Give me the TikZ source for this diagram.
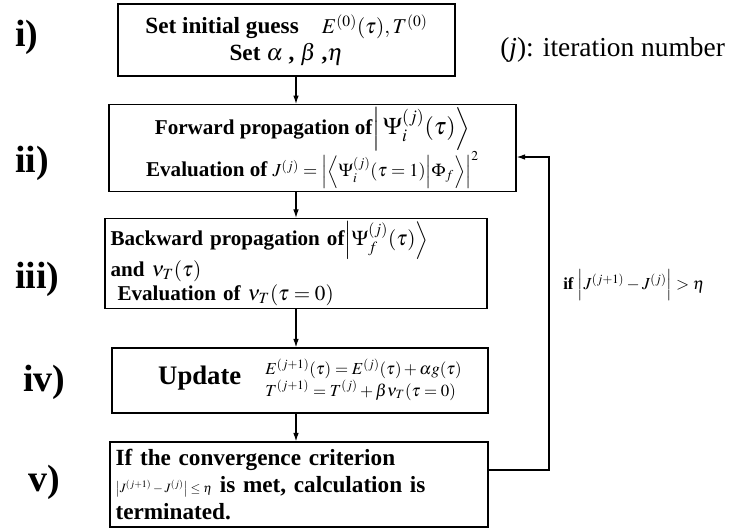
\documentclass[tikz,border=0pt]{standalone}
\usepackage{amsmath,amssymb}
\usepackage{mathptmx}
\usepackage[no-math]{fontspec}
\setmainfont{Liberation Serif}
\usetikzlibrary{arrows.meta,positioning,calc}
\begin{document}
\begin{tikzpicture}[x=0.025cm,y=-0.025cm,>={Latex[length=6pt,width=4pt]},
  box/.style={draw=black,line width=.9pt,inner xsep=4pt,inner ysep=2pt,font=\bfseries\fontsize{15}{17}\selectfont},
  flow/.style={->,line width=.8pt,draw=black},
  steplabel/.style={anchor=west,inner sep=0pt,font=\bfseries\fontsize{27}{30}\selectfont}]
\useasboundingbox (0,0) rectangle (739,528);
\node[box,minimum width=8.425cm,minimum height=1.8cm,align=center,font=\bfseries\fontsize{16.5}{19}\selectfont] (init) at (286.5,40) {Set initial guess\quad{\fontsize{15}{17}\selectfont$E^{(0)}(\tau),T^{(0)}$}\\Set $\alpha$ , $\beta$ ,$\eta$};
\node[box,minimum width=10.175cm,minimum height=2.15cm,align=center] (fwd) at (312.5,148) {Forward propagation of{\fontsize{17}{19}\selectfont$\left|\,\Psi_i^{(j)}(\tau)\right\rangle$}\\Evaluation of {\fontsize{13}{15}\selectfont$J^{(j)}=\left|\left\langle\Psi_i^{(j)}(\tau=1)\middle|\Phi_f\right\rangle\right|^2$}};
\node[box,minimum height=2.175cm,text width=9.27cm,align=left] (bwd) at (296,263.5) {Backward propagation of$\left|\Psi_f^{(j)}(\tau)\right\rangle$\\and $\nu_T(\tau)$\\\ Evaluation of $\nu_T(\tau=0)$};
\node[box,minimum width=9.4cm,minimum height=1.625cm,align=center,font=\bfseries\fontsize{19}{21}\selectfont] (upd) at (300,380.5) {\hspace*{0.5cm}Update\hspace{0.9em}{\fontsize{12}{14}\selectfont$\begin{array}{@{}l@{}}E^{(j+1)}(\tau)=E^{(j)}(\tau)+\alpha g(\tau)\\T^{(j+1)}=T^{(j)}+\beta\nu_T(\tau=0)\end{array}$}};
\node[box,minimum height=2.125cm,text width=9.17cm,align=left,font=\bfseries\fontsize{16.5}{19.2}\selectfont] (conv) at (299,484.5) {If the convergence criterion\\{\fontsize{9}{11}\selectfont$\bigl|J^{(j+1)}-J^{(j)}\bigr|\le\eta$} is met, calculation is\\terminated.};
\draw[flow] (init.south -| bwd.north) -- (fwd.north -| bwd.north);
\draw[flow] (fwd.south -| bwd.north) -- (bwd.north);
\draw[flow] (bwd.south) -- (upd.north -| bwd.south);
\draw[flow] (upd.south -| bwd.south) -- (conv.north -| bwd.south);
\coordinate (fbtop) at (549,157);
\coordinate (fbbot) at (549,470);
\draw[flow] (conv.east |- fbbot) -- (fbbot) -- (fbtop) -- (fwd.east |- fbtop);
\node[anchor=west,inner sep=0pt,font=\fontsize{12}{14}\selectfont] (crit) at (563,285) {\textbf{if} $\left|J^{(j+1)}-J^{(j)}\right|>\eta$};
\node[anchor=west,inner sep=0pt,font=\fontsize{19.5}{23}\selectfont] (iter) at (500,50) {(\textit{j}): iteration number};
\node[steplabel] (si) at (15,37) {i)};
\node[steplabel] (sii) at (15,163) {ii)};
\node[steplabel] (siii) at (15,279) {iii)};
\node[steplabel] (siv) at (23,382) {iv)};
\node[steplabel] (sv) at (28,482) {v)};
\end{tikzpicture}
\end{document}
